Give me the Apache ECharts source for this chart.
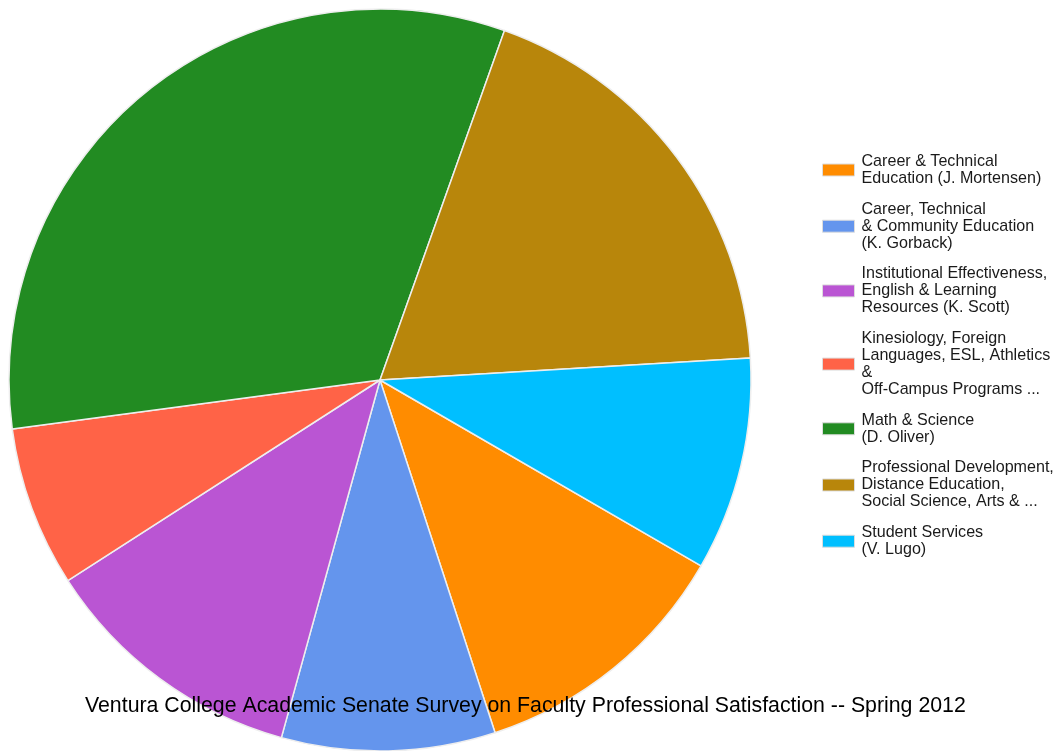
<!DOCTYPE html>
<html>
<head>
<meta charset="utf-8">
<script src="https://cdn.jsdelivr.net/npm/echarts@6/dist/echarts.min.js"></script>
<style>
html,body{margin:0;padding:0;background:#fff;}
#chart{width:1060px;height:751px;}
</style>
</head>
<body>
<div id="chart"></div>
<script>
var categories = [
  "Career & Technical\nEducation (J. Mortensen)",
  "Career, Technical\n& Community Education\n(K. Gorback)",
  "Institutional Effectiveness,\nEnglish & Learning\nResources (K. Scott)",
  "Kinesiology, Foreign\nLanguages, ESL, Athletics\n&\nOff-Campus Programs ...",
  "Math & Science\n(D. Oliver)",
  "Professional Development,\nDistance Education,\nSocial Science, Arts & ...",
  "Student Services\n(V. Lugo)"
];
var values = [5, 4, 5, 3, 14, 8, 4];
var colors = ["#FF8C00", "#6495ED", "#BA55D3", "#FF6347", "#228B22", "#B8860B", "#00BFFF"];
var titleText = "Ventura College Academic Senate Survey on Faculty Professional Satisfaction -- Spring 2012";

var chart = echarts.init(document.getElementById('chart'));
var data = categories.map(function (c, i) {
  return { name: c, value: values[i], itemStyle: { color: colors[i] } };
});
chart.setOption({
  animation: false,
  backgroundColor: '#ffffff',
  title: {
    text: titleText,
    left: 80,
    top: 691,
    textStyle: { fontFamily: 'Liberation Sans, Arial, sans-serif', fontSize: 21.3, fontWeight: 'normal', color: '#000' },
    z: 10
  },
  legend: {
    orient: 'vertical',
    left: 817,
    top: 148,
    itemWidth: 32,
    itemHeight: 12,
    itemGap: 13.7,
    icon: 'rect',
    selectedMode: false,
    itemStyle: { borderColor: '#dddddd', borderWidth: 1 },
    textStyle: { fontFamily: 'Liberation Sans, Arial, sans-serif', fontSize: 16.1, lineHeight: 17, color: '#1a1a1a', padding: [0, 0, 0, 2] },
    data: categories
  },
  series: [{
    type: 'pie',
    center: [380, 380],
    radius: [0, 371],
    startAngle: -30.07,
    clockwise: true,
    label: { show: false },
    labelLine: { show: false },
    emphasis: { disabled: true },
    itemStyle: { borderColor: '#eeeeee', borderWidth: 1.5 },
    data: data
  }]
});
</script>
</body>
</html>
